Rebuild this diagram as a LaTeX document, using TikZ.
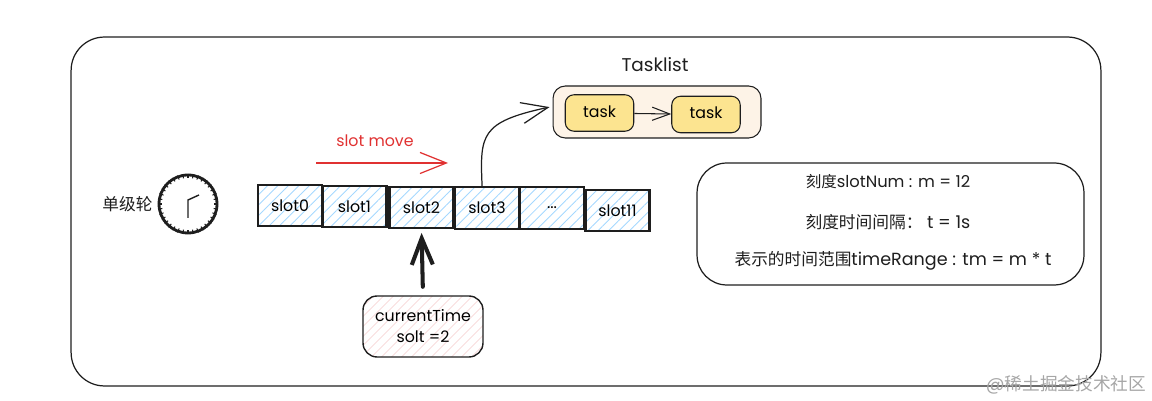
\documentclass[tikz,border=0pt]{standalone}
\usepackage{fontspec}
\setmainfont{Poppins}
\newfontfamily\cjk{Noto Sans CJK SC}[Scale=0.95]
\usetikzlibrary{arrows.meta,patterns.meta}
\definecolor{hatchblue}{HTML}{A5D8FF}
\definecolor{hatchpink}{HTML}{F8D9D9}
\definecolor{lineblack}{HTML}{1E1E1E}
\definecolor{moveRed}{HTML}{E03131}
\definecolor{taskyellow}{HTML}{FCE490}
\definecolor{listcream}{HTML}{FDF3E7}
\tikzset{
	slotbox/.style={draw=lineblack,line width=1.3pt,minimum width=1.28cm,minimum height=.83cm,inner sep=0pt,font=\fontsize{9}{11}\selectfont,
		pattern={Lines[angle=45,distance=4.2pt,line width=.5pt]},pattern color=hatchblue},
	taskbox/.style={draw=lineblack,line width=.6pt,fill=taskyellow,rounded corners=5pt,minimum width=1.37cm,minimum height=.73cm,inner sep=0pt,font=\fontsize{9}{11}\selectfont},
	plainlabel/.style={inner sep=0pt,font=\fontsize{9}{11}\selectfont,text=lineblack},
	infolabel/.style={plainlabel,font=\fontsize{10}{12}\selectfont},
	flow/.style={-{Straight Barb[length=10pt,width=7.5pt]},draw=lineblack,line width=.6pt},
	bigflow/.style={-{Straight Barb[length=15pt,width=12pt]},line width=.7pt},
}
\begin{document}
\begin{tikzpicture}[x=.02cm,y=-.02cm]
		\useasboundingbox (0,0) rectangle (1152,401);
		\node[draw=lineblack,line width=.7pt,rounded corners=19pt,minimum width=20.6cm,minimum height=6.98cm,inner sep=0pt] (frame) at (586,211.5) {};
		\node[infolabel] (wheel) at (127.5,204) {\cjk 单级轮};
		\node[draw=lineblack,line width=1.6pt,circle,minimum size=1.16cm,inner sep=0pt] (clock) at (188,204) {};
		\foreach \a in {0,10,...,350} {
			\draw[lineblack,line width=.6pt] (clock.\a) -- ([shift={(\a+180:2.5pt)}]clock.\a);
		}
		\coordinate (handtop) at (188,200);
		\coordinate (handlow) at (188,218);
		\coordinate (handend) at (199,195);
		\draw[lineblack,line width=.8pt] (handlow) -- (handtop) -- (handend);
		\foreach \name/\x/\y in {slot0/290/205.5,slot1/354.5/206.5,slot2/421.5/207.5,slot3/487/208,slot11/617.5/210.5} {
			\node[slotbox] (\name) at (\x,\y) {\name};
		}
		\node[slotbox] (slotdots) at (552,208) {...};
		\node[plainlabel,text=moveRed] (movelabel) at (375,141) {slot move};
		\coordinate (movestart) at (316,163);
		\coordinate (moveend) at (448,163);
		\draw[bigflow,draw=moveRed] (movestart) -- (moveend);
		\node[plainlabel,font=\fontsize{10.5}{12}\selectfont] (listtitle) at (655,65) {Tasklist};
		\node[draw=lineblack,line width=.6pt,fill=listcream,rounded corners=7pt,minimum width=4.16cm,minimum height=1.04cm,inner sep=0pt] (tasklist) at (657,112) {};
		\node[taskbox] (task1) at (599.5,113) {\raisebox{2pt}{task}};
		\node[taskbox] (task2) at (706,114.5) {\raisebox{2pt}{task}};
		\draw[flow] (task1) -- (task2);
		\draw[bigflow,draw=lineblack] ([xshift=-2.8pt]slot3.north) .. controls (480,135) and (480,122) .. ([xshift=-1.7pt,yshift=2.8pt]tasklist.west);
		\node[draw=lineblack,line width=.8pt,rounded corners=8pt,minimum width=2.4cm,minimum height=1.22cm,inner sep=0pt,align=center,font=\fontsize{9}{12}\selectfont,
			pattern={Lines[angle=45,distance=4pt,line width=.5pt]},pattern color=hatchpink] (current) at (423,326.5) {currentTime\\solt =2};
		\draw[-{Straight Barb[length=15pt,width=12pt]},draw=lineblack,line width=2.3pt,line cap=round,shorten <=5pt,shorten >=2pt] (current.north) -- (slot2.south);
		\node[draw=lineblack,line width=.7pt,rounded corners=17pt,minimum width=7.74cm,minimum height=2.44cm,inner sep=0pt] (info) at (890.5,224) {};
		\node[plainlabel,font=\fontsize{9.3}{11}\selectfont] (infom) at (888,182) {{\cjk 刻度}slotNum : m = 12};
		\node[infolabel] (infot) at (888,222) {{\cjk 刻度时间间隔：}\ t = 1s};
		\node[infolabel] (infor) at (893,261) {{\cjk 表示的时间范围}timeRange : tm = m * t};
		\node[inner sep=0pt,text=black!35,font=\fontsize{10.6}{12}\selectfont] (mark) at (1066,385) {@{\cjk 稀土掘金技术社区}};
	\end{tikzpicture}
\end{document}
